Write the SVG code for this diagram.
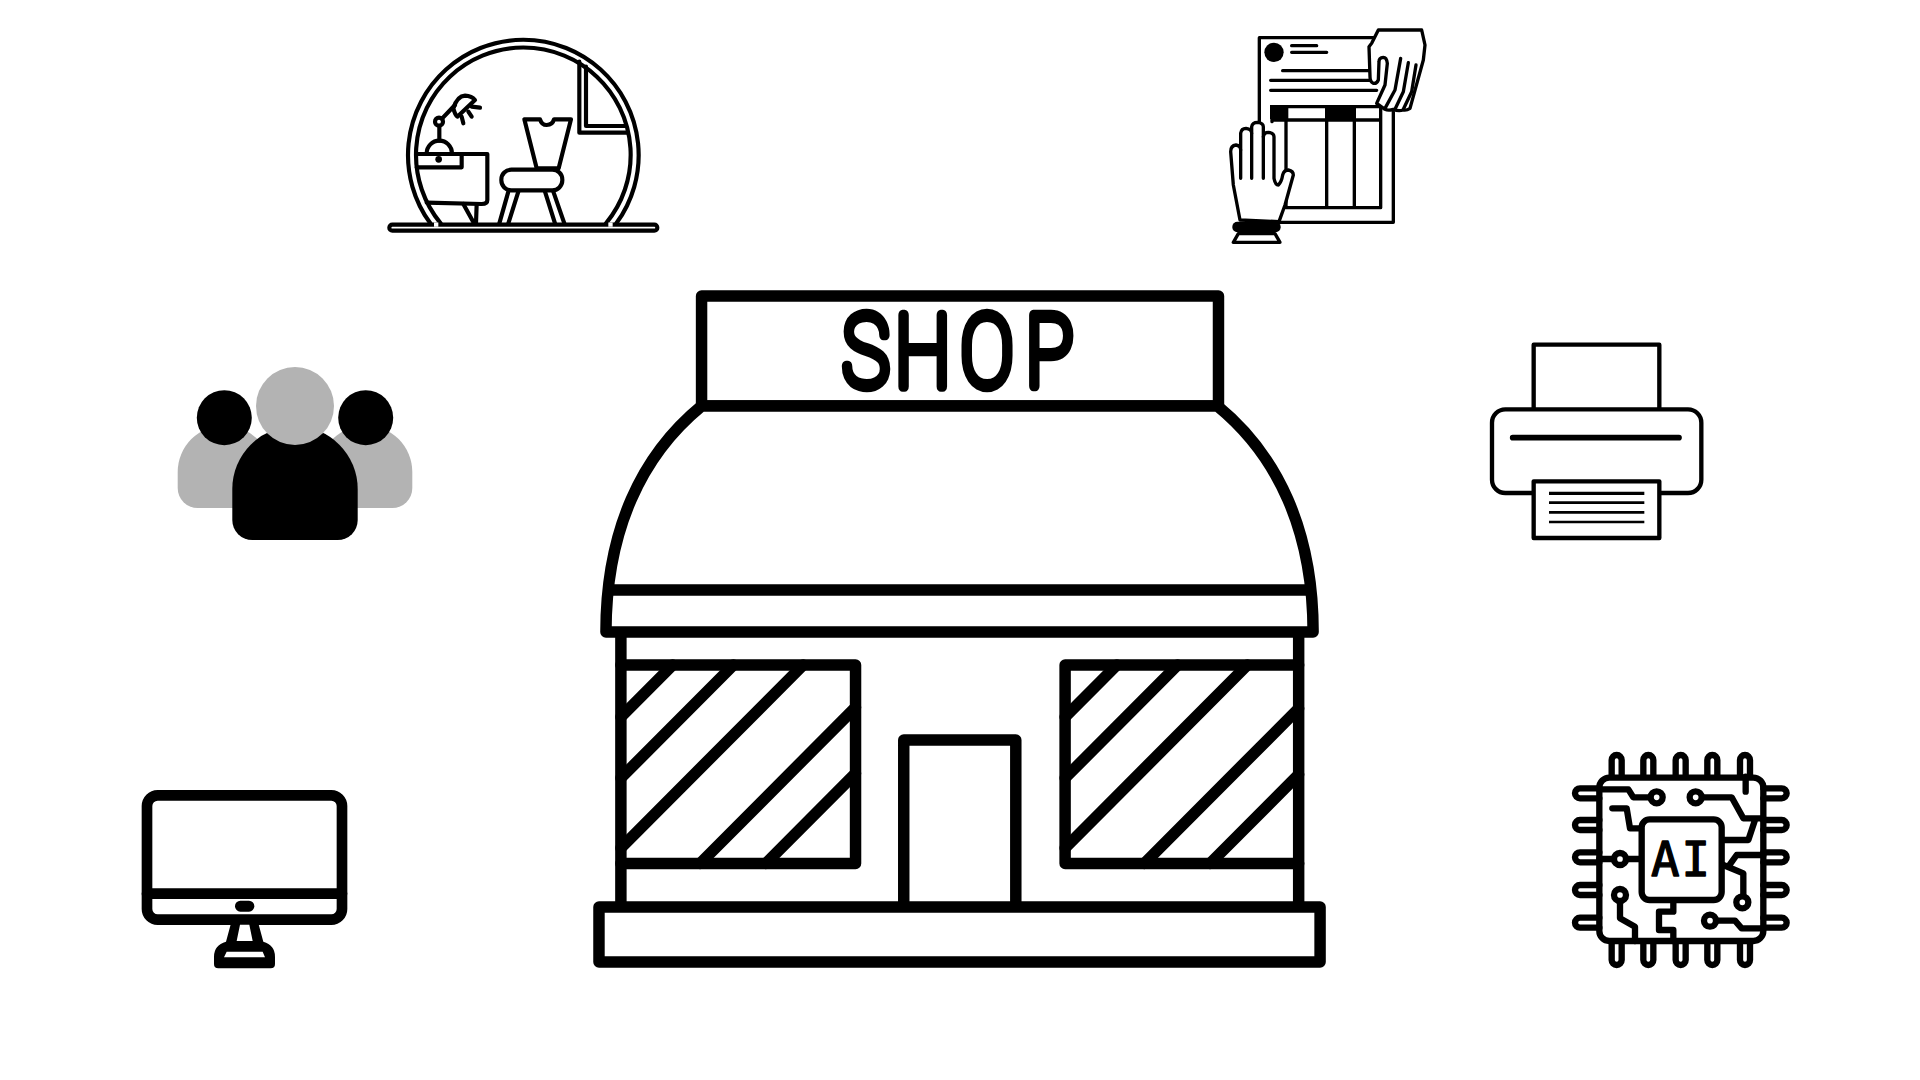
<svg xmlns="http://www.w3.org/2000/svg" width="1920" height="1080" viewBox="0 0 1920 1080">
<style>
.s{fill:none;stroke:#000;stroke-linecap:round;stroke-linejoin:round}
.w{fill:#fff;stroke:#000;stroke-linecap:round;stroke-linejoin:round}
.shop{stroke-width:11.5}
.pod{stroke-width:12.5}
.doc{stroke-width:10}
.chip{stroke-width:19}
.pr{stroke-width:13}
.k{fill:#000}
.g{fill:#b3b3b3}
</style>
<rect width="1920" height="1080" fill="#fff"/>
<g id="pod" transform="translate(370 20) scale(.33333)">
<rect class="w pod" x="58" y="614" width="804" height="18" rx="9"/>
<path class="s pod" d="M181 610A346 346 0 1 1 739 610"/>
<path class="s pod" d="M212 610A322 322 0 1 1 708 610"/>
<path d="M192 614H205M715 614H728" stroke="#fff" stroke-width="13" fill="none"/>
<path class="s pod" d="M628 125V338H770"/>
<path class="s pod" d="M648 140V318H765"/>
<path class="s pod" d="M463 298H510Q515 315 530 315Q548 315 552 298H603L566 445H500Z"/>
<rect class="w pod" x="394" y="449" width="183" height="62" rx="30"/>
<path class="s pod" d="M415 515L388 610M445 515L415 610M525 515L555 610M550 515L583 610"/>
<path class="s pod" d="M140 402H352V540Q352 552 335 552L170 548"/>
<path class="s pod" d="M140 442H275V402"/>
<circle class="k" cx="206" cy="418" r="10"/>
<path class="s pod" d="M280 552L312 610M320 552L318 610"/>
<path class="s pod" d="M170 400A38 38 0 0 1 246 400"/>
<path class="s pod" d="M208 362V318"/>
<circle class="w pod" cx="207" cy="305" r="12"/>
<path class="s pod" d="M216 296L255 255"/>
<path class="s pod" d="M250 265Q262 228 285 227Q305 228 315 240L262 290Q255 285 250 265Z"/>
<path class="s pod" d="M275 290L280 310M295 275L305 290M305 260L330 263"/>
</g>
<g id="documents" transform="translate(1210 15) scale(.33333)">
<path class="s doc" d="M148 320V68H495M550 290V622H200"/>
<circle class="k" cx="192" cy="112" r="29"/>
<path class="s doc" d="M245 92H320M245 112H350M218 167H480M182 196H490M182 226H500"/>
<path class="s doc" d="M186 320V275H512V578H228M186 315H512M228 315V578M350 315V578M433 315V578"/>
<rect class="k" x="180" y="270" width="55" height="42"/>
<rect class="k" x="345" y="270" width="93" height="42"/>
<path class="w doc" d="M90 615L70 510L62 410Q62 392 78 390Q92 392 92 405V355Q94 340 108 340Q125 342 125 355V335Q127 322 143 322Q160 324 160 335V365Q162 352 175 352Q192 354 192 365V490Q196 510 205 510Q215 500 218 480Q222 465 235 465Q250 468 250 480L225 570L207 620Z"/>
<path class="s doc" d="M92 405V490M125 355V490M160 365V490"/>
<rect class="k" x="67" y="620" width="145" height="32" rx="15"/>
<path class="w doc" d="M85 656L70 682H210L195 656Z"/>
<path class="w doc" d="M505 45H635L645 90L640 135L600 280Q590 287 580 285Q565 290 550 283Q535 288 525 283L500 265L525 210L532 145Q530 127 520 127Q507 128 507 140L505 195Q500 207 490 205Q480 200 480 185L477 95L485 85Z"/>
<path class="s doc" d="M572 130L555 225L525 280M595 143L580 230L555 283M618 150L605 230L580 283"/>
</g>
<g id="people">
<path class="g" d="M177.700 472A46.600 46.600 0 0 1 271 472V508H197.700A20 20 0 0 1 177.700 488Z"/>
<path class="g" d="M412.300 472A46.600 46.600 0 0 0 319 472V508H392.300A20 20 0 0 0 412.300 488Z"/>
<circle class="k" cx="224.300" cy="417.700" r="27.500"/>
<circle class="k" cx="365.700" cy="417.700" r="27.500"/>
<path class="k" d="M232.300 489A62.700 62.700 0 0 1 357.700 489V520A20 20 0 0 1 337.700 540H252.300A20 20 0 0 1 232.300 520Z"/>
<circle class="g" cx="295" cy="406" r="39"/>
</g>
<g id="shop" transform="translate(593 0) scale(.996 1) translate(-593 0)">
<rect class="w shop" x="702" y="296" width="519" height="110"/>
<path class="w shop" d="M702 406C642 455 606 530 606 632H1316C1316 530 1280 455 1220 406Z"/>
<path class="s shop" d="M609 590H1313"/>
<text transform="translate(0 386) scale(.8 1)" x="1054 1120 1202.500 1284" y="0" font-family="Roboto, sans-serif" font-weight="100" font-size="100" stroke="#000" stroke-width="10.500" stroke-linejoin="round">SHOP</text>
<path class="s shop" d="M621 637V905M1301.500 637V905"/>
<path class="s shop" d="M621 665H856.600V863.500H621M1301.500 665H1067V863.500H1301.500"/>
<path class="s shop" d="M905 905V740H1017.500V905"/>
<path class="s shop" stroke-linecap="butt" d="M673 665L621 717M734 665L621 778M804 665L621 848M856.600 707.400L700.500 863.500M856.600 773.400L766.500 863.500"/>
<path class="s shop" stroke-linecap="butt" d="M1119 665L1067 717M1180 665L1067 778M1250 665L1067 848M1301.500 708.500L1146.500 863.500M1301.500 774.500L1212.500 863.500"/>
<rect class="w shop" x="599" y="907" width="724" height="55"/>
</g>
<g id="monitor" transform="translate(130 780) scale(.33333)">
<rect class="w" stroke-width="32" x="51" y="46" width="585" height="373" rx="32"/>
<path class="s" stroke-width="32" stroke-linecap="butt" d="M51 341H636"/>
<rect class="k" x="315" y="362" width="58" height="33" rx="16"/>
<path class="k" d="M303 430L288 485Q252 495 252 530V552Q252 565 265 565H422Q435 565 435 552V530Q435 495 400 485L385 430Z"/>
<path d="M330 434H358L368 483H320ZM290 515H398L405 532H282Z" fill="#fff"/>
</g>
<g id="printer" transform="translate(1480 330) scale(.33333)">
<rect class="w pr" x="161" y="44" width="377" height="200"/>
<rect class="w pr" x="36" y="238" width="628" height="251" rx="40"/>
<path class="s" stroke-width="17" d="M98 323H597"/>
<rect class="w pr" x="161" y="454" width="377" height="170"/>
<path d="M207 490H493" stroke="#000" stroke-width="10" fill="none"/>
<path d="M207 518H493M207 547H493M207 576H493" stroke="#000" stroke-width="8" fill="none"/>
</g>
<g id="ai-chip" transform="translate(1555 740) scale(.33333)">
<g class="s chip">
<path d="M170 108V60A15 15 0 0 1 200 60V108M265 108V60A15 15 0 0 1 295 60V108M362 108V60A15 15 0 0 1 392 60V108M457 108V60A15 15 0 0 1 487 60V108M555 108V60A15 15 0 0 1 585 60V108"/>
<path d="M170 608V660A15 15 0 0 0 200 660V608M265 608V660A15 15 0 0 0 295 660V608M362 608V660A15 15 0 0 0 392 660V608M457 608V660A15 15 0 0 0 487 660V608M555 608V660A15 15 0 0 0 585 660V608"/>
<path d="M133 145H75A15 15 0 0 0 75 175H133M133 240H75A15 15 0 0 0 75 270H133M133 337H75A15 15 0 0 0 75 367H133M133 435H75A15 15 0 0 0 75 465H133M133 533H75A15 15 0 0 0 75 563H133"/>
<path d="M625 145H680A15 15 0 0 1 680 175H625M625 240H680A15 15 0 0 1 680 270H625M625 337H680A15 15 0 0 1 680 367H625M625 435H680A15 15 0 0 1 680 465H625M625 533H680A15 15 0 0 1 680 563H625"/>
<rect x="133" y="113" width="492" height="490" rx="30"/>
<rect x="260" y="238" width="240" height="242" rx="24"/>
<path d="M133 148H220L235 172H285M442 172H530L565 235H625M600 240L580 300H505M172 205H215L225 265H255M572 110V155M133 357H172M218 357H255M625 345H545L520 380M505 375L565 400V465M195 487V535L240 560V603M355 488V515H312V570H355V603M487 542H540L560 565H625"/>
<circle cx="305" cy="172" r="18"/><circle cx="422" cy="172" r="18"/><circle cx="195" cy="357" r="18"/><circle cx="195" cy="465" r="18"/><circle cx="562" cy="487" r="18"/><circle cx="465" cy="542" r="18"/>
</g>
<text x="288" y="408" font-family="DejaVu Sans Mono, monospace" font-size="142" letter-spacing="6" stroke="#000" stroke-width="4" stroke-linejoin="round">AI</text>
</g>
</svg>
